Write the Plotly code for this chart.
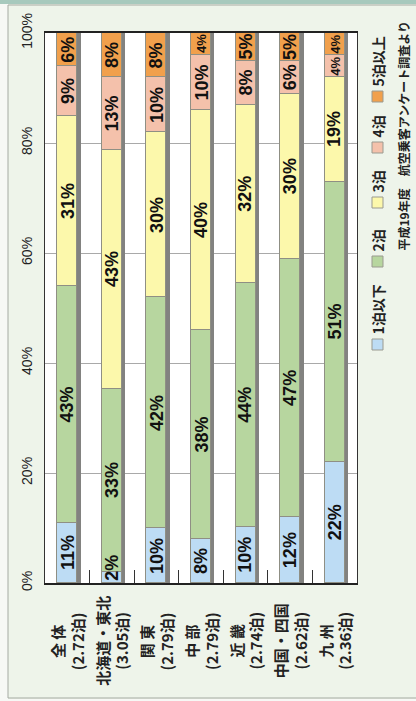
import plotly.graph_objects as go

# ---------------- data ----------------
categories = ['全体', '北海道・東北', '関東', '中部', '近畿', '中国・四国', '九州']
category_labels = ['全 体<br>(2.72泊)', '北海道・東北<br>(3.05泊)', '関 東<br>(2.79泊)',
                   '中 部<br>(2.79泊)', '近 畿<br>(2.74泊)', '中国・四国<br>(2.62泊)',
                   '九 州<br>(2.36泊)']
series_names = ['1泊以下', '2泊', '3泊', '4泊', '5泊以上']
nights_1 = [11, 2, 10, 8, 10, 12, 22]
nights_2 = [43, 33, 42, 38, 44, 47, 51]
nights_3 = [31, 43, 30, 40, 32, 30, 19]
nights_4 = [9, 13, 10, 10, 8, 6, 4]
nights_5 = [6, 8, 8, 4, 5, 5, 4]
y_ticks = [0, 20, 40, 60, 80, 100]
source_text = '平成19年度　航空乗客アンケート調査より'

series_values = [nights_1, nights_2, nights_3, nights_4, nights_5]
colors = ['#bddcf4', '#b7d69f', '#fcf8ab', '#f4c1ab', '#f1a04c']

# ---------------- geometry (pixels) ----------------
W, H = 416, 701
PL, PR, PT, PB = 45, 357, 33, 583


def px2x(px):
    return (px - PL) / (PR - PL)


def py2y(py):
    return (PB - py) / (PB - PT)


BAR_W = 0.45
NUM_FONT = 'Liberation Sans, Arial, sans-serif'
JP_FONT = 'Noto Sans CJK JP, sans-serif'

fig = go.Figure()

# grey 3-D shadow behind each bar (normalised to 100 %)
totals = [sum(v) for v in zip(*series_values)]
fig.add_trace(go.Bar(
    x=categories, y=totals, xaxis='x', yaxis='y',
    width=BAR_W, offset=-BAR_W / 2 + 0.075,
    marker=dict(color='#828280', line=dict(width=0)),
    hoverinfo='skip', showlegend=False))

for name, vals, col in zip(series_names, series_values, colors):
    fig.add_trace(go.Bar(
        name=name, x=categories, y=vals, xaxis='x2', yaxis='y2',
        width=BAR_W,
        marker=dict(color=col, line=dict(color='#8f8f84', width=1)),
        showlegend=False))

# percentage labels on the segments (positions follow the normalised stack)
for i, cat in enumerate(categories):
    col_vals = [s[i] for s in series_values]
    tot = sum(col_vals)
    base = 0.0
    for v in col_vals:
        h = v / tot * 100
        small = v < 3
        size = 13 if 2 < v < 5 else 18
        fig.add_annotation(
            x=cat, xref='x2', y=base if small else base + h / 2, yref='y2',
            text=f'{v}%', textangle=-90, showarrow=False,
            xanchor='center', yanchor='bottom' if small else 'middle',
            font=dict(family=NUM_FONT, size=size, color='#111', weight='bold'))
        base += h

axis_common = dict(range=[-0.5, 6.5], type='category', categoryorder='array',
                   categoryarray=categories)

fig.update_layout(
    width=W, height=H,
    margin=dict(l=PL, r=W - PR, t=PT, b=H - PB, pad=0),
    paper_bgcolor='#eef4ea', plot_bgcolor='#ffffff',
    barmode='stack', barnorm='percent', bargap=0,
    showlegend=False,
    xaxis=dict(**axis_common, showticklabels=False, ticks='inside',
               tickson='boundaries', ticklen=13, tickcolor='#333', tickwidth=1,
               showgrid=False, showline=True, linecolor='#222', linewidth=2,
               mirror=True, zeroline=False),
    xaxis2=dict(**axis_common, overlaying='x', visible=False),
    yaxis=dict(range=[0, 100], tickvals=y_ticks, ticktext=[f'{t}%' for t in y_ticks],
               tickangle=-90, tickfont=dict(family=NUM_FONT, size=14, color='#222'),
               ticks='', ticklabelstandoff=6,
               showgrid=True, gridcolor='#a9a9a9', gridwidth=1,
               showline=True, linecolor='#333', linewidth=1, mirror=True,
               zeroline=False),
    yaxis2=dict(range=[0, 100], overlaying='y', visible=False),
)

# category labels (rotated, centred lines)
for cat, lab in zip(categories, category_labels):
    fig.add_annotation(x=cat, xref='x', y=py2y(641), yref='paper',
                       text=lab, textangle=-90, showarrow=False,
                       xanchor='center', yanchor='middle', align='center',
                       font=dict(family=JP_FONT, size=15, color='#222', weight='bold'))

# hand-drawn rotated legend
legend_box_top = [339, 256, 197, 142, 91]   # pixel top of each swatch
BOX = 11
LX = 372
for name, col, top in zip(series_names, colors, legend_box_top):
    fig.add_shape(type='rect', xref='paper', yref='paper',
                  x0=px2x(LX), x1=px2x(LX + BOX), y0=py2y(top + BOX), y1=py2y(top),
                  fillcolor=col, line=dict(color='#9a9a90', width=1))
    fig.add_annotation(x=px2x(LX + BOX / 2), xref='paper', y=py2y(top - 2), yref='paper',
                       text=name, textangle=-90, showarrow=False,
                       xanchor='center', yanchor='bottom',
                       font=dict(family=JP_FONT, size=14, color='#222', weight='bold'))

fig.add_annotation(x=px2x(403), xref='paper', y=py2y(253), yref='paper',
                   text=source_text, textangle=-90, showarrow=False,
                   xanchor='center', yanchor='bottom',
                   font=dict(family=JP_FONT, size=12, color='#222', weight='bold'))

# outer frame decorations
fig.add_shape(type='rect', xref='paper', yref='paper',
              x0=px2x(-5), x1=px2x(8), y0=py2y(710), y1=py2y(-5),
              fillcolor='#f7f8f5', line=dict(width=0), layer='below')
fig.add_shape(type='rect', xref='paper', yref='paper',
              x0=px2x(-5), x1=px2x(425), y0=py2y(4), y1=py2y(-5),
              fillcolor='#a7c9bd', line=dict(width=0), layer='below')
fig.add_shape(type='rect', xref='paper', yref='paper',
              x0=px2x(-5), x1=px2x(425), y0=py2y(710), y1=py2y(699),
              fillcolor='#f7f8f5', line=dict(width=0), layer='below')
fig.add_shape(type='rect', xref='paper', yref='paper',
              x0=px2x(8), x1=px2x(430), y0=py2y(698), y1=py2y(5),
              fillcolor='rgba(0,0,0,0)', line=dict(color='#a5aaa2', width=1), layer='below')
fig.add_shape(type='rect', xref='paper', yref='paper',
              x0=0, x1=1, y0=0, y1=1,
              fillcolor='#ffffff', line=dict(width=0), layer='below')

fig.write_html('out.html', config={'displayModeBar': False},
               post_script="document.body.style.margin='0';document.body.style.overflow='hidden';")
